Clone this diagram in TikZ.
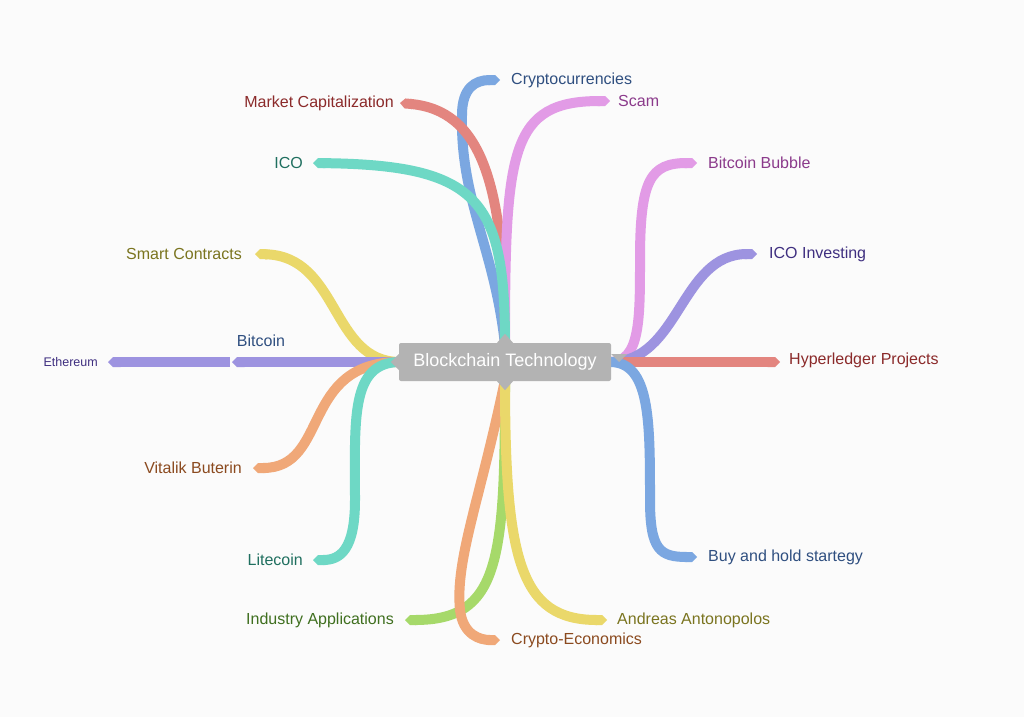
\documentclass[tikz,border=0pt]{standalone}
\usepackage{fontspec}
\setmainfont{Liberation Sans}
\usetikzlibrary{arrows.meta}
\definecolor{bg}{HTML}{FBFBFB}
\definecolor{boxg}{HTML}{B3B3B3}
\definecolor{cblue}{HTML}{7BA7E1}
\definecolor{cred}{HTML}{E3857F}
\definecolor{cpink}{HTML}{E29BE6}
\definecolor{cteal}{HTML}{6ED8C5}
\definecolor{cyellow}{HTML}{EAD86A}
\definecolor{cpurple}{HTML}{9D93E0}
\definecolor{corange}{HTML}{F0A878}
\definecolor{cgreen}{HTML}{A6D96A}
\definecolor{tblue}{HTML}{2F4F80}
\definecolor{tred}{HTML}{8B2A2A}
\definecolor{tpurple}{HTML}{8B3A8B}
\definecolor{tteal}{HTML}{1F6F5F}
\definecolor{tolive}{HTML}{7A741F}
\definecolor{tbrown}{HTML}{8B4A1F}
\definecolor{tgreen}{HTML}{3F6F1F}
\definecolor{tviolet}{HTML}{3F2F80}
\tikzset{
  br/.style={line width=10pt,-{Triangle Cap[]}},
  lab/.style={font=\fontsize{16}{19}\selectfont,inner sep=0pt},
}
\begin{document}
\begin{tikzpicture}[x=1pt,y=-1pt]
\fill[bg] (0,0) rectangle (1024,717);
\path[use as bounding box] (0,0) rectangle (1024,717);
\coordinate (T) at (505,345);
\coordinate (B) at (505,380);
\coordinate (L) at (400,362);
\coordinate (R) at (610,362);
% labels
\node[lab,tblue,anchor=west] (cry) at (511,80) {Cryptocurrencies};
\node[lab,tred,anchor=east] (mc) at (394,103) {Market Capitalization};
\node[lab,tpurple,anchor=west] (scam) at (618,101) {Scam};
\node[lab,tteal,anchor=east] (ico) at (303,163) {ICO};
\node[lab,tolive,anchor=east] (sc) at (242,254) {Smart Contracts};
\node[lab,tblue] (btc) at (261,341) {Bitcoin};
\node[lab,tviolet,anchor=east,font=\fontsize{12.5}{14}\selectfont] (eth) at (98,362) {Ethereum};
\node[lab,tbrown,anchor=east] (vb) at (242,468) {Vitalik Buterin};
\node[lab,tteal,anchor=east] (ltc) at (303,560) {Litecoin};
\node[lab,tgreen,anchor=east] (ia) at (394,620) {Industry Applications};
\node[lab,tbrown,anchor=west] (ce) at (511,640) {Crypto-Economics};
\node[lab,tolive,anchor=west] (aa) at (617,620) {Andreas Antonopolos};
\node[lab,tpurple,anchor=west] (bb) at (708,163) {Bitcoin Bubble};
\node[lab,tviolet,anchor=west] (ii) at (769,254) {ICO Investing};
\node[lab,tred,anchor=west] (hp) at (789,360) {Hyperledger Projects};
\node[lab,tblue,anchor=west] (bh) at (708,557) {Buy and hold startegy};
% branches
\draw[br,cblue] (T) .. controls (495,250) and (460,200) .. (462,115) .. controls (462,88) and (475,80) .. (500,80);
\draw[br,cred] (T) .. controls (505,180) and (480,110) .. (400,103);
\draw[br,cpink] (T) .. controls (505,150) and (510,101) .. (610,101);
\draw[br,cteal] (T) .. controls (505,200) and (480,165) .. (313,163);
\draw[br,cyellow] (L) .. controls (330,362) and (340,256) .. (255,254);
\draw[br,cpurple] (L) -- (232,362);
\draw[br,cpurple] (230,362) -- (108,362);
\draw[br,corange] (L) .. controls (300,362) and (330,468) .. (253,468);
\draw[br,cteal] (L) .. controls (350,362) and (355,420) .. (355,500) .. controls (355,550) and (340,560) .. (313,560);
\draw[br,cgreen] (B) .. controls (505,560) and (500,620) .. (405,620);
\draw[br,corange] (B) .. controls (480,500) and (455,560) .. (460,610) .. controls (463,635) and (480,640) .. (500,640);
\draw[br,cyellow] (B) .. controls (505,560) and (520,620) .. (607,620);
\draw[br,cpink] (R) .. controls (640,362) and (640,320) .. (640,260) .. controls (640,180) and (650,163) .. (697,163);
\draw[br,cpurple] (R) .. controls (680,362) and (680,254) .. (757,254);
\draw[br,cred] (R) -- (780,362);
\draw[br,cblue] (R) .. controls (650,362) and (650,420) .. (650,500) .. controls (650,550) and (660,557) .. (697,557);
% center
\node[fill=boxg,rounded corners=2pt,text=white,font=\fontsize{18}{21}\selectfont,minimum width=212pt,minimum height=38pt,inner sep=0pt] (c) at (505,362) {Blockchain Technology};
\fill[boxg] (c.north)++(-8,0) -- ++(8,-9) -- ++(8,9);
\fill[boxg] (c.south)++(-8,0) -- ++(8,9) -- ++(8,-9);
\fill[boxg] (c.west)++(0,-8) -- ++(-8,8) -- ++(8,8);
\fill[boxg] (c.east)++(0,-8) -- ++(8,8) -- ++(8,-8);
\end{tikzpicture}
\end{document}
